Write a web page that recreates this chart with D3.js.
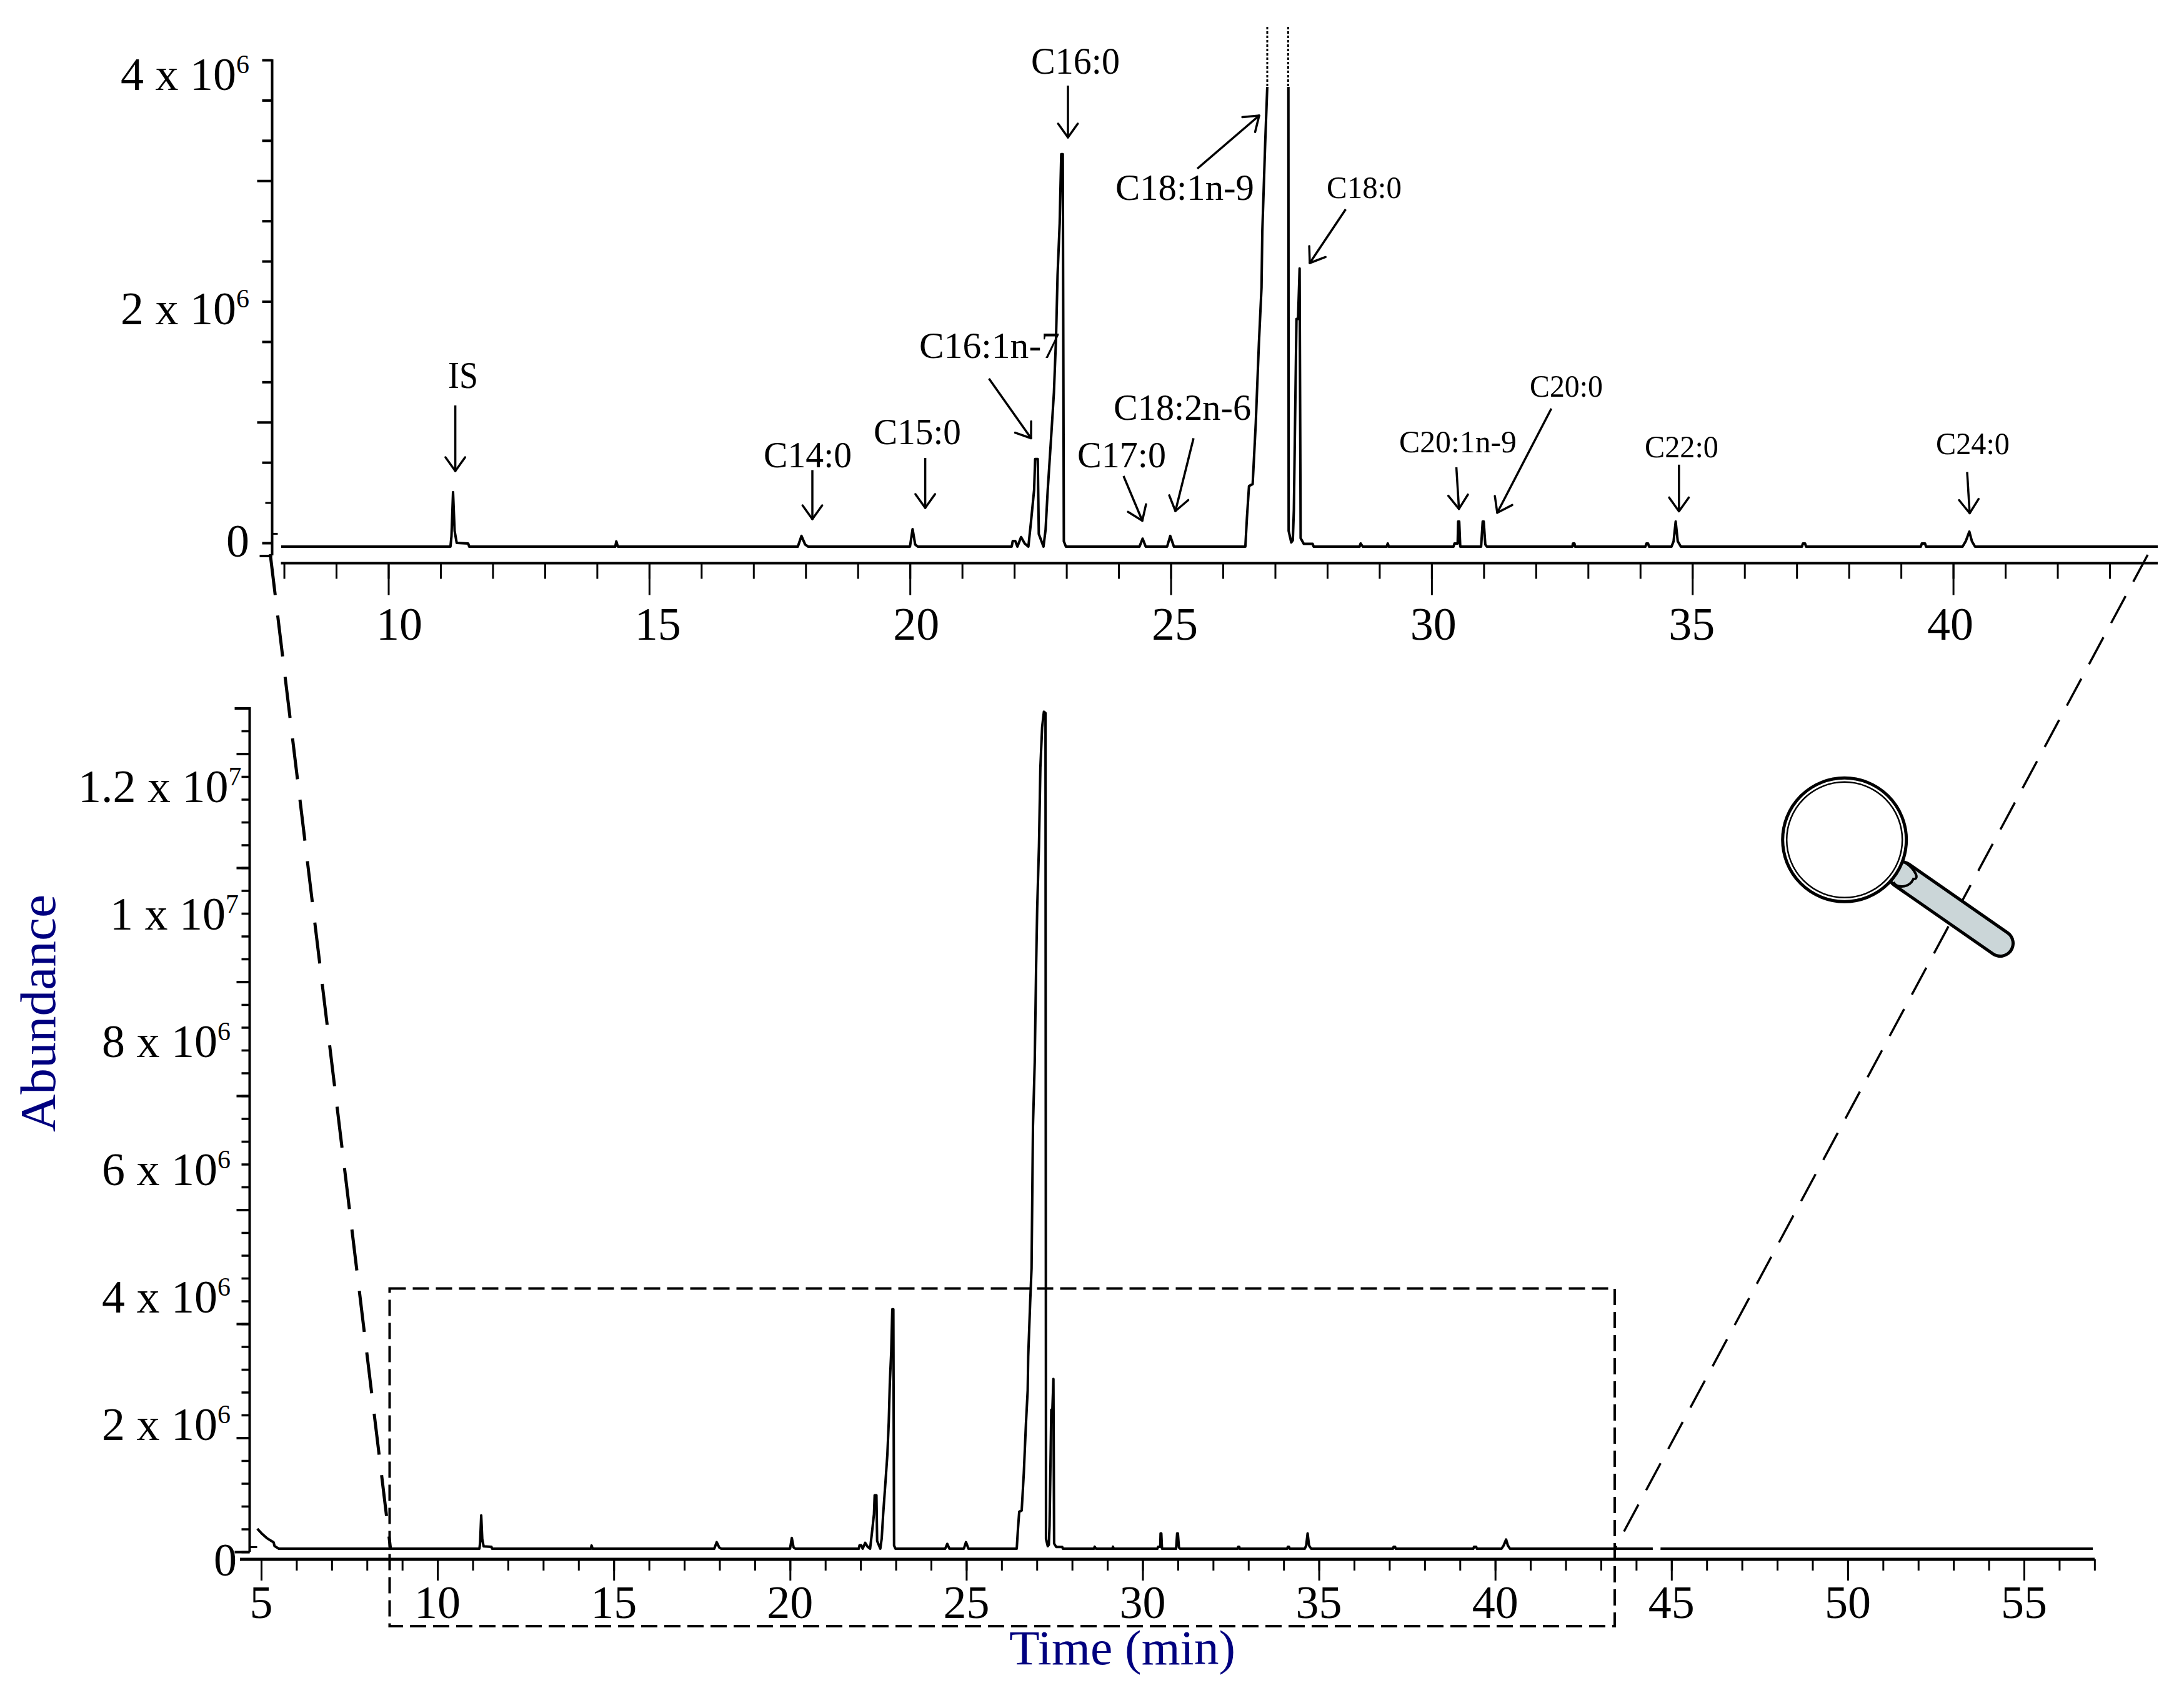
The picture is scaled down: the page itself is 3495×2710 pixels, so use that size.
<!DOCTYPE html>
<html>
<head>
<meta charset="utf-8">
<script src="https://d3js.org/d3.v7.min.js"></script>
<style>
    body { margin: 0; background: #fff; }
    text { font-family: "Liberation Serif", serif; fill: #000; }
</style>
</head>
<body>
<div id="graph-container"></div>
<script>
// Data______________________________________________________
const retentionTime = [
    4.89, 5.01, 5.16, 5.35, 5.38, 5.5,
    11.19, 11.21, 11.24, 11.27, 11.31, 11.53, 11.55,
    14.35, 14.37, 14.40,
    17.85, 17.92, 17.99, 18.05,
    20.0, 20.05, 20.10, 20.15,
    21.95, 21.97, 22.02, 22.06, 22.13, 22.2, 22.27,
    22.32, 22.38, 22.40, 22.45, 22.47, 22.5, 22.56,
    22.6, 22.64, 22.71, 22.76, 22.8, 22.83, 22.87, 22.9, 22.93, 22.95, 22.99,
    24.40, 24.46, 24.52,
    24.93, 24.99, 25.06,
    26.43, 26.46, 26.5, 26.57, 26.63, 26.69, 26.74, 26.755, 26.81, 26.85,
    26.89, 26.94, 26.98, 27.01, 27.06, 27.1, 27.15, 27.2, 27.245, 27.26,
    27.31, 27.34, 27.36, 27.41, 27.44, 27.47, 27.49, 27.55, 27.72, 27.74,
    28.62, 28.64, 28.68,
    29.14, 29.16, 29.18,
    30.42, 30.44, 30.5, 30.51, 30.53, 30.55,
    30.95, 30.98, 31.0, 31.03, 31.06,
    32.70, 32.71, 32.74, 32.75,
    34.1, 34.12, 34.15, 34.17,
    34.6, 34.64, 34.68, 34.72, 34.78,
    37.1, 37.12, 37.16, 37.18,
    39.38, 39.4, 39.46, 39.48,
    40.18, 40.24, 40.31, 40.36, 40.42,
    44.47, 44.58, 44.69, 56.95
];
const abundance = [
    3.1e5, 2.4e5, 1.65e5, 1.0e5, 4e4, 0,
    0, 1.0e5, 5.2e5, 1.5e5, 3.6e4, 3e4, 0,
    0, 5e4, 0,
    0, 1.02e5, 2e4, 0,
    0, 1.67e5, 2e4, 0,
    0, 5.3e4, 5.3e4, 0, 9.1e4, 3e4, 0,
    2.35e5, 5.4e5, 8.35e5, 8.35e5, 1.2e5, 8e4, 0,
    1.6e5, 5.3e5, 1.07e6, 1.47e6, 1.98e6, 2.59e6, 3.08e6, 3.74e6, 3.74e6, 5e4, 0,
    0, 7.6e4, 0,
    0, 1.02e5, 0,
    0, 2.73e5, 5.77e5, 5.96e5, 1.18e6, 1.94e6, 2.47e6, 3.0e6, 3.84e6, 4.38e6,
    6.6e6, 7.6e6, 9.1e6, 1.0e7, 1.097e7, 1.22e7, 1.283e7, 1.307e7, 1.305e7, 1.5e5,
    4e4, 6e4, 3.5e5, 2.17e6, 2.17e6, 2.65e6, 8e4, 2.7e4, 2.7e4, 0,
    0, 3e4, 0,
    0, 3e4, 0,
    0, 3e4, 3e4, 2.39e5, 2.39e5, 0,
    0, 2.39e5, 2.39e5, 2e4, 0,
    0, 3e4, 3e4, 0,
    0, 3e4, 3e4, 0,
    0, 5e4, 2.39e5, 5e4, 0,
    0, 3e4, 3e4, 0,
    0, 3e4, 3e4, 0,
    0, 5e4, 1.43e5, 5e4, 0,
    0, null, 0, 0
];
const chromatogram = retentionTime.map((t, i) => ({ t: t, a: abundance[i] }));

const peakNames = ['IS', 'C14:0', 'C15:0', 'C16:1n-7', 'C16:0', 'C17:0', 'C18:2n-6', 'C18:1n-9', 'C18:0', 'C20:1n-9', 'C20:0', 'C22:0', 'C24:0'];
const topYLabels = [0, 2, 4];
const bottomYLabels = [0, 2, 4, 6, 8, 10, 12];
const topXLabels = [10, 15, 20, 25, 30, 35, 40];
const bottomXLabels = [5, 10, 15, 20, 25, 30, 35, 40, 45, 50, 55];

// Layout of the annotations, one row per name in peakNames
// x, baseline, width, font size, then arrow tail and tip
const peakLayout = [
    [717, 621, 48, 62, 728.6, 649, 728.6, 754],
    [1222, 747.5, 141, 60, 1300, 752.5, 1300, 831],
    [1398, 711, 140, 60, 1480.6, 733, 1480.6, 813],
    [1471, 573, 225, 60, 1582.6, 606, 1650, 701.5],
    [1650, 118, 142, 62, 1709, 137, 1709, 220],
    [1724, 747.5, 142, 60, 1798, 762, 1828, 833.5],
    [1782, 672, 220, 60, 1910, 701.5, 1881, 818],
    [1785, 320, 222, 60, 1916, 270, 2015, 185],
    [2123, 317, 120, 50, 2153.5, 335, 2096, 421],
    [2239, 724, 188, 50, 2330.6, 748, 2334.7, 814.6],
    [2448, 634.7, 117, 50, 2482.6, 654, 2396, 820.7],
    [2632, 731.5, 118, 50, 2686.8, 743.8, 2686.8, 818.4],
    [3098, 727, 118, 50, 3148, 755.6, 3152, 821.5]
];

// Scales____________________________________________________
const xTop = d3.scaleLinear().domain([10, 40]).range([621.5, 3125.6]);
const xTopLabel = d3.scaleLinear().domain([10, 40]).range([639, 3121]);
const yTop = d3.scaleLinear().domain([0, 4e6]).range([869, 96]);
const yTopLabel = d3.scaleLinear().domain([0, 2e6, 4e6]).range([891, 519, 144]);
// the inset trace is plotted on its own gain, not the one its axis says
const yTopTrace = d3.scaleLinear().domain([0, 1e6]).range([875, 707]);

const xBottom = d3.scaleLinear().domain([5, 55]).range([418, 3239]);
const yBottom = d3.scaleLinear().domain([0, 1e7]).range([2484, 1459]);
const yBottomLabel = d3.scaleLinear().domain([0, 2e6, 1.2e7]).range([2522, 2305, 1284]);
const yBottomTrace = d3.scaleLinear().domain([0, 1e7]).range([2479, 1454]);

const topYStep = 1e6 / 3;
const bottomYStep = 356098;

// Svg_______________________________________________________
const svg = d3.select('#graph-container')
    .append('svg')
    .attr('width', 3495)
    .attr('height', 2710)
    .style('display', 'block');

svg.append('defs').append('clipPath')
    .attr('id', 'top-clip')
    .append('rect')
    .attr('x', 450)
    .attr('y', 139)
    .attr('width', 3003)
    .attr('height', 780);

// Axes helpers______________________________________________
function ticks(axis, y, width) {
    svg.append('g')
        .attr('transform', y)
        .call(axis.tickFormat(''))
        .call(g => g.select('.domain').remove())
        .call(g => g.selectAll('text').remove())
        .selectAll('line')
        .attr('stroke', '#000')
        .attr('stroke-width', width);
}

function rule(x1, y1, x2, y2, width) {
    return svg.append('line')
        .attr('x1', x1).attr('y1', y1)
        .attr('x2', x2).attr('y2', y2)
        .attr('stroke', '#000')
        .attr('stroke-width', width);
}

function yLabel(mantissa, exponent, x, y) {
    const t = svg.append('text')
        .attr('x', x)
        .attr('y', y)
        .attr('font-size', 74);
    if (exponent === null) {
        t.text(mantissa);
        return;
    }
    t.append('tspan').text(mantissa + ' x 10');
    t.append('tspan')
        .attr('dy', -27)
        .attr('font-size', 42)
        .text(exponent);
}

// Connector lines, under everything else____________________
rule(432.5, 887, 625, 2480, 5).attr('stroke-dasharray', '66 33');
rule(3437, 888, 2583, 2481, 3.5).attr('stroke-dasharray', '49 26');

// Top panel_________________________________________________
rule(435.5, 95, 435.5, 889, 4);
rule(xTop(7.94), 901.5, 3453, 901.5, 4);

const topMinor = d3.range(0, 13).map(i => i * topYStep).filter(v => v !== 1e6 && v !== 3e6 && v !== topYStep);
ticks(d3.axisLeft(yTop).tickValues(topMinor).tickSize(16), 'translate(435.5,0)', 4);
ticks(d3.axisLeft(yTop).tickValues([1e6, 3e6]).tickSize(24), 'translate(435.5,0)', 4);
ticks(d3.axisLeft(yTop).tickValues([topYStep]).tickSize(11), 'translate(435.5,0)', 3);
ticks(d3.axisLeft(yTop).tickValues([-1.06e5]).tickSize(20), 'translate(435.5,0)', 4);
ticks(d3.axisRight(yTop).tickValues([7.8e4]).tickSize(9), 'translate(435.5,0)', 3);

ticks(d3.axisBottom(xTop).tickValues(d3.range(8, 44)).tickSize(25), 'translate(0,901.5)', 3);
ticks(d3.axisBottom(xTop).tickValues(topXLabels).tickSize(51), 'translate(0,901.5)', 3);

svg.selectAll('.top-x-label')
    .data(topXLabels)
    .enter()
    .append('text')
    .attr('class', 'top-x-label')
    .attr('x', d => xTopLabel(d))
    .attr('y', 1024)
    .attr('font-size', 74)
    .attr('text-anchor', 'middle')
    .text(d => d);

topYLabels.forEach(d => {
    if (d === 0) {
        yLabel('0', null, 362, yTopLabel(0));
    } else {
        yLabel(d, '6', 193, yTopLabel(d * 1e6));
    }
});

const traceTop = d3.line()
    .defined(d => d.a !== null)
    .x(d => xTop(d.t))
    .y(d => yTopTrace(d.a));

svg.append('path')
    .datum(chromatogram)
    .attr('d', traceTop)
    .attr('clip-path', 'url(#top-clip)')
    .attr('fill', 'none')
    .attr('stroke', '#000')
    .attr('stroke-width', 4)
    .attr('stroke-linejoin', 'round');

// Dotted lines where the big peak runs off the inset
[26.85, 27.25].forEach(t => {
    rule(xTop(t), 43, xTop(t), 139, 3).attr('stroke-dasharray', '4 3');
});

// Peak names and arrows_____________________________________
peakNames.forEach((name, i) => {
    const [x, y, w, size, x1, y1, x2, y2] = peakLayout[i];
    svg.append('text')
        .attr('x', x)
        .attr('y', y)
        .attr('font-size', size)
        .attr('textLength', w)
        .attr('lengthAdjust', 'spacingAndGlyphs')
        .text(name);

    rule(x1, y1, x2, y2, 3.5);
    const angle = Math.atan2(y2 - y1, x2 - x1);
    [-0.62, 0.62].forEach(da => {
        rule(x2, y2, x2 - 27 * Math.cos(angle + da), y2 - 27 * Math.sin(angle + da), 3.5)
            .attr('stroke-linecap', 'round');
    });
});

// Bottom panel______________________________________________
rule(399.5, 1132, 399.5, 2484, 4);
rule(384, 2496, 3352, 2496, 5);

const bottomTicks = d3.range(0, 38).map(i => i * bottomYStep);
ticks(d3.axisLeft(yBottom).tickValues(bottomTicks).tickSize(13), 'translate(399.5,0)', 3.5);
ticks(d3.axisLeft(yBottom).tickValues(bottomTicks.filter((d, i) => i % 5 === 0 && i > 0)).tickSize(21), 'translate(399.5,0)', 4);
ticks(d3.axisLeft(yBottom).tickValues([0, 37 * bottomYStep]).tickSize(24), 'translate(399.5,0)', 4);
ticks(d3.axisRight(yBottom).tickValues([7.8e4]).tickSize(12), 'translate(399.5,0)', 3);

ticks(d3.axisBottom(xBottom).tickValues(d3.range(5, 58)).tickSize(18), 'translate(0,2496)', 3);
ticks(d3.axisBottom(xBottom).tickValues(bottomXLabels).tickSize(34), 'translate(0,2496)', 3);

svg.selectAll('.bottom-x-label')
    .data(bottomXLabels)
    .enter()
    .append('text')
    .attr('class', 'bottom-x-label')
    .attr('x', d => xBottom(d))
    .attr('y', 2590)
    .attr('font-size', 74)
    .attr('text-anchor', 'middle')
    .text(d => d);

const bottomLeft = { 0: 342, 2: 163, 4: 163, 6: 163, 8: 163, 10: 176, 12: 125 };
bottomYLabels.forEach(d => {
    if (d === 0) {
        yLabel('0', null, bottomLeft[d], yBottomLabel(0));
    } else if (d >= 10) {
        yLabel(d / 10, '7', bottomLeft[d], yBottomLabel(d * 1e6));
    } else {
        yLabel(d, '6', bottomLeft[d], yBottomLabel(d * 1e6));
    }
});

const traceBottom = d3.line()
    .defined(d => d.a !== null)
    .x(d => xBottom(d.t))
    .y(d => yBottomTrace(d.a));

svg.append('path')
    .datum(chromatogram)
    .attr('d', traceBottom)
    .attr('fill', 'none')
    .attr('stroke', '#000')
    .attr('stroke-width', 4)
    .attr('stroke-linejoin', 'round');

// Dashed box around the zoomed range________________________
svg.append('rect')
    .attr('x', 623.5)
    .attr('y', 2062.5)
    .attr('width', 1960.5)
    .attr('height', 540.5)
    .attr('fill', 'none')
    .attr('stroke', '#000')
    .attr('stroke-width', 4)
    .attr('stroke-dasharray', '26 11');

// Axis titles_______________________________________________
svg.append('text')
    .attr('transform', 'translate(88,1622) rotate(-90)')
    .attr('text-anchor', 'middle')
    .attr('font-size', 80)
    .attr('textLength', 380)
    .attr('lengthAdjust', 'spacingAndGlyphs')
    .style('fill', '#00007f')
    .text('Abundance');

svg.append('text')
    .attr('x', 1615)
    .attr('y', 2664)
    .attr('font-size', 78)
    .attr('textLength', 362)
    .attr('lengthAdjust', 'spacingAndGlyphs')
    .style('fill', '#00007f')
    .text('Time (min)');

// Magnifying glass__________________________________________
const glass = svg.append('g');

glass.append('line')
    .attr('x1', 3043).attr('y1', 1400)
    .attr('x2', 3201).attr('y2', 1510)
    .attr('stroke', '#000')
    .attr('stroke-width', 46)
    .attr('stroke-linecap', 'round');

glass.append('line')
    .attr('x1', 3043).attr('y1', 1400)
    .attr('x2', 3201).attr('y2', 1510)
    .attr('stroke', '#cbd6d8')
    .attr('stroke-width', 36)
    .attr('stroke-linecap', 'round');

// collar where the handle meets the ring
glass.append('path')
    .attr('d', 'M3048,1380 C3066,1392 3072,1408 3062,1407 C3055,1422 3035,1422 3030,1412')
    .attr('fill', 'none')
    .attr('stroke', '#000')
    .attr('stroke-width', 4);

glass.append('circle')
    .attr('cx', 2951.7)
    .attr('cy', 1344.3)
    .attr('r', 99)
    .attr('fill', '#fff')
    .attr('stroke', '#000')
    .attr('stroke-width', 5);

glass.append('circle')
    .attr('cx', 2951.7)
    .attr('cy', 1344.3)
    .attr('r', 92.5)
    .attr('fill', '#fff')
    .attr('stroke', '#000')
    .attr('stroke-width', 2.5);
</script>
</body>
</html>
